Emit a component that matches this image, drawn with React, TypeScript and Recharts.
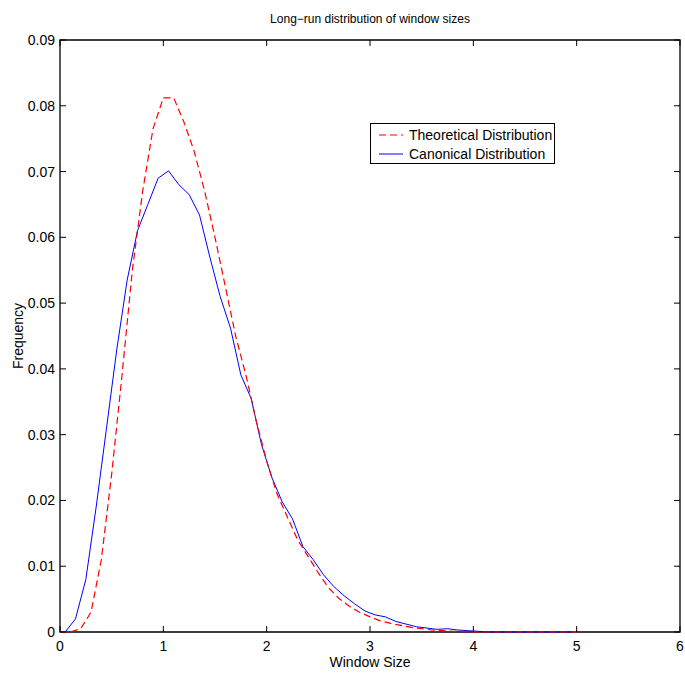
import { Line, LineChart, ReferenceArea, XAxis, YAxis } from "recharts";

const xTicks = [0, 1, 2, 3, 4, 5, 6];
const yTicks = [0, 0.01, 0.02, 0.03, 0.04, 0.05, 0.06, 0.07, 0.08, 0.09];

const theoreticalX = [
  0, 0.1, 0.2, 0.3, 0.4, 0.5, 0.6, 0.7, 0.8, 0.9, 1.0, 1.1, 1.2, 1.3, 1.4,
  1.5, 1.6, 1.7, 1.8, 1.9, 2.0, 2.1, 2.2, 2.3, 2.4, 2.5, 2.6, 2.7, 2.8, 2.9,
  3.0, 3.1, 3.2, 3.3, 3.4, 3.5, 3.6, 3.7, 3.8, 3.9, 4.0, 4.1, 4.2, 4.3, 4.4,
  4.5, 4.6, 4.7, 4.8, 4.9, 5.0,
];
const theoreticalFreq = [
  0, 0, 0.0005, 0.003, 0.011, 0.024, 0.039, 0.055, 0.067, 0.0765, 0.0812,
  0.0812, 0.0775, 0.073, 0.067, 0.06, 0.0525, 0.045, 0.039, 0.032, 0.026,
  0.021, 0.0175, 0.014, 0.0115, 0.009, 0.0067, 0.0051, 0.0039, 0.003, 0.0023,
  0.0017, 0.0013, 0.001, 0.0007, 0.0005, 0.0003, 0.0002, 0.0001, 0.0001, 0, 0,
  0, 0, 0, 0, 0, 0, 0, 0, 0,
];

const canonicalX = [
  0.05, 0.15, 0.25, 0.35, 0.45, 0.55, 0.65, 0.75, 0.85, 0.95, 1.05, 1.15,
  1.25, 1.35, 1.45, 1.55, 1.65, 1.75, 1.85, 1.95, 2.05, 2.15, 2.25, 2.35,
  2.45, 2.55, 2.65, 2.75, 2.85, 2.95, 3.05, 3.15, 3.25, 3.35, 3.45, 3.55,
  3.65, 3.75, 3.85, 3.95, 4.05, 4.15, 4.25, 4.35, 4.45, 4.55, 4.65, 4.75,
  4.85, 4.95,
];
const canonicalFreq = [
  0, 0.002, 0.008, 0.019, 0.031, 0.043, 0.0535, 0.061, 0.065, 0.069, 0.0701,
  0.068, 0.0665, 0.0634, 0.057, 0.051, 0.0462, 0.0391, 0.0355, 0.0285,
  0.0235, 0.0198, 0.0172, 0.013, 0.011, 0.0087, 0.0069, 0.0055, 0.0043,
  0.0032, 0.0026, 0.0023, 0.0016, 0.0012, 0.0008, 0.0006, 0.0004, 0.0005,
  0.0003, 0.0002, 0.0001, 0, 0, 0, 0, 0, 0, 0, 0, 0,
];

const theoretical = theoreticalX.map((x, i) => ({ x, y: theoreticalFreq[i] }));
const canonical = canonicalX.map((x, i) => ({ x, y: canonicalFreq[i] }));

const font = '"Liberation Sans", Arial, Helvetica, sans-serif';

// plot frame (matlab style box, ticks point inward on all four sides)
const W = 685;
const H = 679;
const LEFT = 60;
const RIGHT = 680;
const TOP = 40;
const BOTTOM = 632;
const TICK = 6;

function XTick({ x, payload }: any) {
  return (
    <g>
      <line x1={x} y1={BOTTOM} x2={x} y2={BOTTOM - TICK} stroke="#000" />
      <line x1={x} y1={TOP} x2={x} y2={TOP + TICK} stroke="#000" />
      <text x={x} y={BOTTOM + 19} textAnchor="middle" fontSize={14} fontFamily={font} fill="#000">
        {payload.value}
      </text>
    </g>
  );
}

function YTick({ y, payload }: any) {
  return (
    <g>
      <line x1={LEFT} y1={y} x2={LEFT + TICK} y2={y} stroke="#000" />
      <line x1={RIGHT} y1={y} x2={RIGHT - TICK} y2={y} stroke="#000" />
      <text x={LEFT - 5} y={y + 5} textAnchor="end" fontSize={14} fontFamily={font} fill="#000">
        {payload.value === 0 ? "0" : payload.value.toFixed(2)}
      </text>
    </g>
  );
}

export default function App() {
  return (
    <div style={{ position: "absolute", left: 0, top: 0, width: W, height: H, background: "#fff", fontFamily: font }}>
      <LineChart width={W} height={H} margin={{ top: TOP, right: W - RIGHT, bottom: 0, left: 0 }}>
        <XAxis dataKey="x" type="number" domain={[0, 6]} ticks={xTicks} height={H - BOTTOM}
          tickLine={false} tick={<XTick />} axisLine={false} />
        <YAxis type="number" domain={[0, 0.09]} ticks={yTicks} width={LEFT}
          tickLine={false} tick={<YTick />} axisLine={false} />
        <ReferenceArea x1={0} x2={6} y1={0} y2={0.09} fill="none" stroke="#000" strokeWidth={1.3}
          ifOverflow="visible" />
        <Line data={canonical} dataKey="y" stroke="#0000ff" strokeWidth={1}
          dot={false} isAnimationActive={false} />
        <Line data={theoretical} dataKey="y" stroke="#ff0000" strokeWidth={1.2}
          strokeDasharray="7 4" dot={false} isAnimationActive={false} />
      </LineChart>
      <div style={{ position: "absolute", left: LEFT, width: RIGHT - LEFT, top: 12, textAlign: "center", fontSize: 12 }}>
        Long−run distribution of window sizes
      </div>
      <div style={{ position: "absolute", left: LEFT, width: RIGHT - LEFT, top: 654, textAlign: "center", fontSize: 14 }}>
        Window Size
      </div>
      <div style={{ position: "absolute", left: 18, top: 336, fontSize: 14, whiteSpace: "nowrap", transform: "translate(-50%, -50%) rotate(-90deg)" }}>
        Frequency
      </div>
      <div style={{ position: "absolute", left: 370, top: 123, width: 185, height: 41, border: "1px solid #000", boxSizing: "border-box", background: "#fff" }}>
        <svg width={185} height={41} style={{ position: "absolute", left: 0, top: 0 }}>
          <line x1={8} y1={11} x2={32} y2={11} stroke="#ff0000" strokeWidth={1.2} strokeDasharray="7 4" />
          <line x1={8} y1={30} x2={32} y2={30} stroke="#0000ff" strokeWidth={1} />
          <text x={38} y={16} fontSize={14} fontFamily={font}>Theoretical Distribution</text>
          <text x={38} y={35} fontSize={14} fontFamily={font}>Canonical Distribution</text>
        </svg>
      </div>
    </div>
  );
}
